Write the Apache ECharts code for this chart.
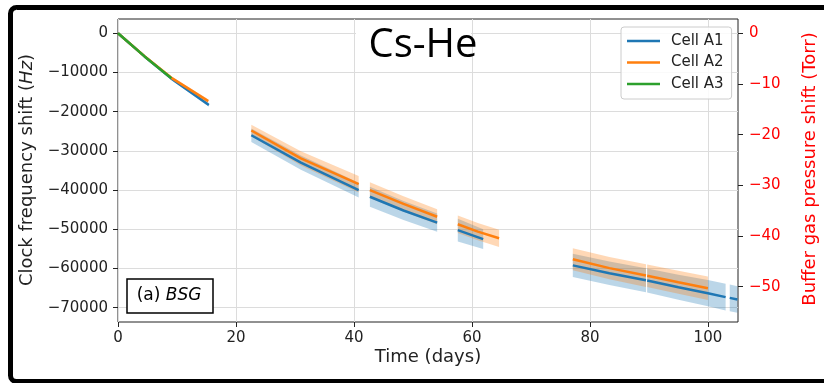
<!DOCTYPE html>
<html><head><meta charset="utf-8">
<script src="https://cdn.jsdelivr.net/npm/echarts@6/dist/echarts.min.js"></script>
<style>html,body{margin:0;padding:0;background:#fff}#c{width:824px;height:383px}</style>
</head><body><div id="c"></div>
<script>
// ---- tick labels ----
const xTicks = [0, 20, 40, 60, 80, 100];
const leftTicks = [0, -10000, -20000, -30000, -40000, -50000, -60000, -70000];
const rightTicks = [0, -10, -20, -30, -40, -50];
const cellNames = ['Cell A1', 'Cell A2', 'Cell A3'];

// ---- Cell A1 (segments: days, shift Hz, band half-width Hz) ----
const a1Days  = [[0, 4.5, 9, 15.4], [22.6, 31, 40.8], [42.7, 48.4, 54.1], [57.6, 61.9], [77.1, 83.3, 89.5], [89.7, 95, 100, 103], [103.7, 105]];
const a1Shift = [[0, -5900, -11500, -18300], [-26000, -33000, -40000], [-41700, -45200, -48300], [-50200, -52500], [-59200, -61200, -63000], [-63050, -64800, -66300, -67300], [-67500, -67900]];
const a1Err   = [[150, 250, 350, 450], [1700, 1800, 1900], [2550, 2400, 2300], [2900, 2500], [2950, 3000, 3050], [3050, 3200, 3350, 3400], [3400, 3400]];

// ---- Cell A2 ----
const a2Days  = [[0, 4.5, 9, 15.3], [22.6, 31, 40.8], [42.7, 48.4, 54.1], [57.6, 61, 64.6], [77.1, 83.3, 89.5], [89.7, 95, 100]];
const a2Shift = [[0, -5850, -11300, -17300], [-24800, -31900, -38500], [-40000, -43500, -46800], [-48700, -50600, -52300], [-57650, -59900, -61800], [-61850, -63500, -65050]];
const a2Err   = [[150, 250, 350, 450], [1450, 1800, 2100], [2000, 1950, 1900], [2250, 2200, 2200], [2800, 2850, 2900], [2900, 2950, 3000]];

// ---- Cell A3 ----
const a3Days  = [[0, 4.5, 9.05]];
const a3Shift = [[0, -5900, -11450]];
const a3Err   = [[100, 150, 200]];

const colors = ['#1f77b4', '#ff7f0e', '#2ca02c'];
const bandFill = ['rgba(31,119,180,0.3)', 'rgba(255,127,14,0.3)', 'rgba(44,160,44,0.3)'];
const FONT = '"DejaVu Sans", sans-serif';
const minus = v => String(v).replace('-', '\u2212');

function lineData(days, vals) {
  const out = [];
  days.forEach((seg, i) => {
    if (i > 0) out.push([(days[i - 1][days[i - 1].length - 1] + seg[0]) / 2, null]);
    seg.forEach((d, j) => out.push([d, vals[i][j]]));
  });
  return out;
}
function bandSeries(name, days, vals, errs, fill) {
  return {
    type: 'custom', name: name, z: 1, silent: true,
    xAxisIndex: 0, yAxisIndex: 0,
    encode: { x: 0, y: 1 },
    data: days.map((seg, i) => [seg[0], vals[i][0], i]),
    renderItem: function (params, api) {
      const s = api.value(2);
      const d = days[s], v = vals[s], e = errs[s];
      const up = [], lo = [];
      for (let k = 0; k < d.length; k++) {
        up.push(api.coord([d[k], v[k] + e[k]]));
        lo.push(api.coord([d[k], v[k] - e[k]]));
      }
      return { type: 'polygon', shape: { points: up.concat(lo.reverse()) }, style: { fill: fill, stroke: null } };
    }
  };
}
function lineSeries(name, days, vals, color) {
  return {
    type: 'line', name: name, z: 3, data: lineData(days, vals),
    xAxisIndex: 0, yAxisIndex: 0,
    showSymbol: false, symbol: 'none', connectNulls: false,
    lineStyle: { color: color, width: 2.5 }, itemStyle: { color: color }
  };
}

const chart = echarts.init(document.getElementById('c'), null, { renderer: 'canvas' });
const option = {
  animation: false,
  backgroundColor: '#fff',
  grid: { left: 118, top: 19, width: 620, height: 303, show: true, borderColor: '#222', borderWidth: 1, backgroundColor: 'transparent', containLabel: false },
  xAxis: {
    type: 'value', min: 0, max: 105.1, position: 'bottom',
    axisLine: { show: false, onZero: false },
    axisTick: { show: true, length: 5, lineStyle: { color: '#222' }, customValues: xTicks },
    axisLabel: { fontSize: 15, fontFamily: FONT, color: '#222', margin: 9, customValues: xTicks },
    splitLine: { show: true, lineStyle: { color: '#dcdcdc', width: 1 } }
  },
  yAxis: [{
    type: 'value', min: -73648, max: 3648, position: 'left',
    axisLine: { show: false, onZero: false },
    axisTick: { show: true, length: 5, lineStyle: { color: '#222' }, customValues: leftTicks },
    axisLabel: { fontSize: 15, fontFamily: FONT, color: '#222', margin: 10, formatter: minus, customValues: leftTicks },
    splitLine: { show: true, lineStyle: { color: '#dcdcdc', width: 1 } }
  }, {
    type: 'value', min: -56.96, max: 2.84, position: 'right',
    axisLine: { show: false, onZero: false },
    axisTick: { show: true, length: 5, lineStyle: { color: '#222' }, customValues: rightTicks },
    axisLabel: { fontSize: 15, fontFamily: FONT, color: '#ff0000', margin: 11, formatter: minus, customValues: rightTicks },
    splitLine: { show: false }
  }],
  legend: {
    data: cellNames, orient: 'vertical', left: 621, top: 27,
    padding: [6.5, 8, 7.5, 6], itemGap: 6.5, itemWidth: 33, itemHeight: 2.5, icon: 'rect',
    backgroundColor: 'rgba(255,255,255,0.85)', borderColor: '#cccccc', borderWidth: 1, borderRadius: 3,
    textStyle: { fontSize: 15, fontFamily: FONT, color: '#222', lineHeight: 15, padding: [0, 0, 0, 6] }
  },
  series: [
    bandSeries('bandA1', a1Days, a1Shift, a1Err, bandFill[0]),
    bandSeries('bandA2', a2Days, a2Shift, a2Err, bandFill[1]),
    bandSeries('bandA3', a3Days, a3Shift, a3Err, bandFill[2]),
    lineSeries(cellNames[0], a1Days, a1Shift, colors[0]),
    lineSeries(cellNames[1], a2Days, a2Shift, colors[1]),
    lineSeries(cellNames[2], a3Days, a3Shift, colors[2])
  ],
  graphic: [
    { type: 'rect', z: 50, shape: { x: 356, y: 20, width: 115, height: 50 }, style: { fill: '#fff' } },
    { type: 'text', z: 51, x: 423, y: 46, style: { text: 'Cs-He', fontSize: 40, fontFamily: '"Open Sans", sans-serif', fill: '#000', align: 'center', verticalAlign: 'middle' } },
    { type: 'rect', z: 50, shape: { x: 127, y: 279, width: 86, height: 34 }, style: { fill: '#fff', stroke: '#000', lineWidth: 1.5 } },
    { type: 'text', z: 51, x: 169, y: 296, style: { text: '{n|(a) }{i|BSG}', align: 'center', verticalAlign: 'middle', fill: '#000',
        rich: { n: { fontSize: 17, fontFamily: FONT, fill: '#000' }, i: { fontSize: 17, fontFamily: FONT, fontStyle: 'italic', fill: '#000' } } } },
    { type: 'text', z: 51, x: 428, y: 357, style: { text: 'Time (days)', fontSize: 18, fontFamily: FONT, fill: '#222', align: 'center', verticalAlign: 'middle' } },
    { type: 'text', z: 51, x: 27, y: 170, rotation: Math.PI / 2, style: { text: '{n|Clock frequency shift (}{i|Hz}{n|)}', align: 'center', verticalAlign: 'middle', fill: '#222',
        rich: { n: { fontSize: 18, fontFamily: FONT, fill: '#222' }, i: { fontSize: 18, fontFamily: FONT, fontStyle: 'italic', fill: '#222' } } } },
    { type: 'text', z: 51, x: 810, y: 169, rotation: Math.PI / 2, style: { text: 'Buffer gas pressure shift (Torr)', fontSize: 18, fontFamily: FONT, fill: '#ff0000', align: 'center', verticalAlign: 'middle' } },
    { type: 'rect', z: 60, shape: { x: 10.5, y: 7.5, width: 840, height: 374, r: 6 }, style: { fill: null, stroke: '#000', lineWidth: 5 } }
  ]
};
chart.setOption(option);
</script>
</body></html>
